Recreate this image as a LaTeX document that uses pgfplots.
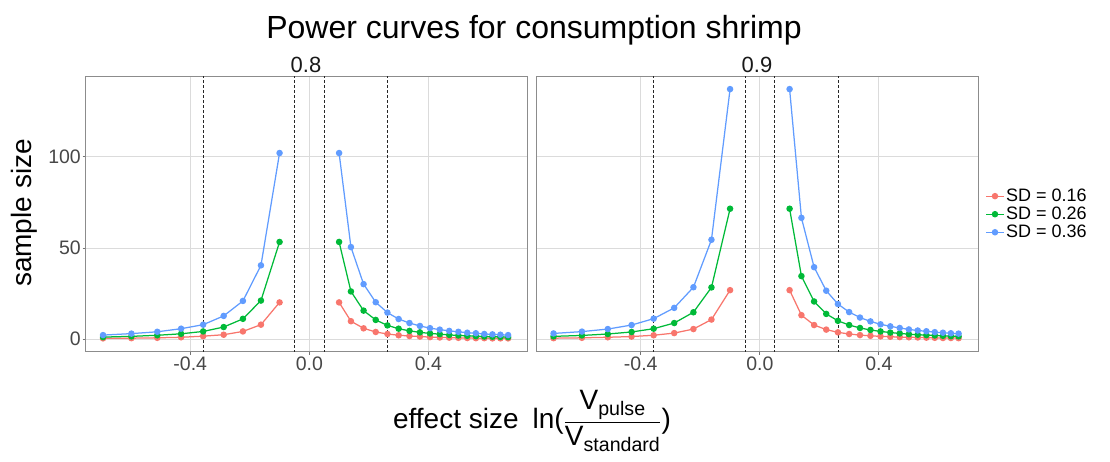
\documentclass[border=0pt]{standalone}
\usepackage{amsmath}
\usepackage{fontspec}
\setmainfont{Liberation Sans}
\usepackage{pgfplots}
\usepackage{pgfplotstable}
\pgfplotsset{compat=1.18}
\definecolor{sdr}{HTML}{F8766D}
\definecolor{sdg}{HTML}{00BA38}
\definecolor{sdb}{HTML}{619CFF}

\pgfplotstableread{
x       r8    g8    b8    r9    g9    b9
-0.6931 0.5   1.2   2.3   0.6   1.6   3.2
-0.5978 0.6   1.6   3.1   0.8   2.1   4.2
-0.5108 0.8   2.2   4.1   1.1   2.9   5.6
-0.4308 1.1   3.0   5.8   1.5   4.0   7.8
-0.3567 1.7   4.3   8.0   2.2   5.8   11.3
-0.2877 2.5   6.7   12.8  3.4   8.9   17.2
-0.2231 4.3   11.2  21.0  5.6   14.8  28.5
-0.1625 8.0   21.2  40.5  10.8  28.4  54.5
-0.1000 20.2  53.3  102.0 26.9  71.5  137.0
0       nan   nan   nan   nan   nan   nan
0.1000  20.2  53.3  102.0 26.9  71.5  137.0
0.1398  9.9   26.2  50.5  13.2  34.6  66.5
0.1823  6.0   15.7  30.2  7.8   20.7  39.5
0.2231  4.0   10.6  20.3  5.3   13.9  26.6
0.2624  2.9   7.6   14.6  3.8   10.1  19.3
0.3001  2.2   5.8   11.1  2.9   7.8   14.9
0.3365  1.8   4.6   8.9   2.3   6.2   11.9
0.3716  1.5   3.8   7.3   1.9   5.1   9.8
0.4055  1.2   3.2   6.1   1.6   4.3   8.2
0.4383  1.0   2.8   5.3   1.4   3.7   7.1
0.4700  0.9   2.4   4.6   1.2   3.2   6.2
0.5008  0.8   2.1   4.1   1.1   2.8   5.4
0.5306  0.7   1.9   3.6   1.0   2.5   4.8
0.5596  0.6   1.7   3.3   0.9   2.3   4.4
0.5878  0.6   1.5   2.9   0.8   2.1   3.9
0.6152  0.5   1.4   2.7   0.7   1.9   3.6
0.6419  0.5   1.3   2.5   0.7   1.7   3.3
0.6678  0.5   1.2   2.3   0.6   1.6   3.1
}\data

\pgfplotsset{
  facet/.style={
    width=442pt, height=275pt, scale only axis,
    anchor=south west,
    xmin=-0.752, xmax=0.733, ymin=-6.8, ymax=143.8,
    xtick={-0.4,0,0.4}, xticklabels={-0.4,0.0,0.4},
    ytick={0,50,100},
    xtick pos=bottom, ytick pos=left,
    grid=major,
    major grid style={draw=black!14, line width=0.9pt},
    axis line style={draw=black!45, line width=0.9pt},
    tick align=outside, major tick length=3pt,
    tick style={draw=black!55, line width=0.8pt},
    ticklabel style={font=\fontsize{19.5}{22}\selectfont, text=black!72},
    xticklabel style={inner sep=2pt},
    yticklabel style={inner sep=1.5pt},
    /pgf/number format/assume math mode=true,
    unbounded coords=jump,
    every axis plot/.append style={line width=1.25pt, mark=*, mark size=2.6pt, mark options={solid}},
  },
  vl/.style={black!85, line width=0.7pt, dash pattern=on 3pt off 2pt, mark=none, forget plot},
}

\begin{document}
\begin{tikzpicture}
\useasboundingbox (0pt,0pt) rectangle (1110pt,461pt);

\begin{axis}[facet, at={(85.5pt,109.3pt)}, yticklabels={0,50,100}]
  \addplot[vl] coordinates {(-0.3567,-10) (-0.3567,150)};
  \addplot[vl] coordinates {(-0.05,-10) (-0.05,150)};
  \addplot[vl] coordinates {(0.05,-10) (0.05,150)};
  \addplot[vl] coordinates {(0.2624,-10) (0.2624,150)};
  \addplot[sdr] table[x=x,y=r8]{\data};
  \addplot[sdg] table[x=x,y=g8]{\data};
  \addplot[sdb] table[x=x,y=b8]{\data};
\end{axis}

\begin{axis}[facet, at={(536pt,109.3pt)}, yticklabels={}, ytick style={draw=none},
  legend style={at={(1.015,0.50)}, anchor=west, draw=none, fill=none,
    font=\fontsize{18}{20}\selectfont, row sep=0pt, inner sep=1pt},
  legend cell align=left]
  \addplot[vl] coordinates {(-0.3567,-10) (-0.3567,150)};
  \addplot[vl] coordinates {(-0.05,-10) (-0.05,150)};
  \addplot[vl] coordinates {(0.05,-10) (0.05,150)};
  \addplot[vl] coordinates {(0.2624,-10) (0.2624,150)};
  \addplot[sdr] table[x=x,y=r9]{\data};
  \addplot[sdg] table[x=x,y=g9]{\data};
  \addplot[sdb] table[x=x,y=b9]{\data};
  \legend{SD = 0.16, SD = 0.26, SD = 0.36}
\end{axis}

\node[anchor=base, font=\fontsize{32}{36}\selectfont] at (534pt,422pt) {Power curves for consumption shrimp};
\node[anchor=base, font=\fontsize{22}{24}\selectfont, text=black!90] at (306pt,388pt) {0.8};
\node[anchor=base, font=\fontsize{22}{24}\selectfont, text=black!90] at (757pt,388pt) {0.9};
\node[rotate=90, font=\fontsize{28}{30}\selectfont] at (24pt,248pt) {sample size};
\node[font=\fontsize{28}{30}\selectfont] at (532pt,40pt)
  {effect size\enspace ln($\dfrac{\text{V}_{\text{pulse}}}{\text{V}_{\text{standard}}}$)};
\end{tikzpicture}
\end{document}
